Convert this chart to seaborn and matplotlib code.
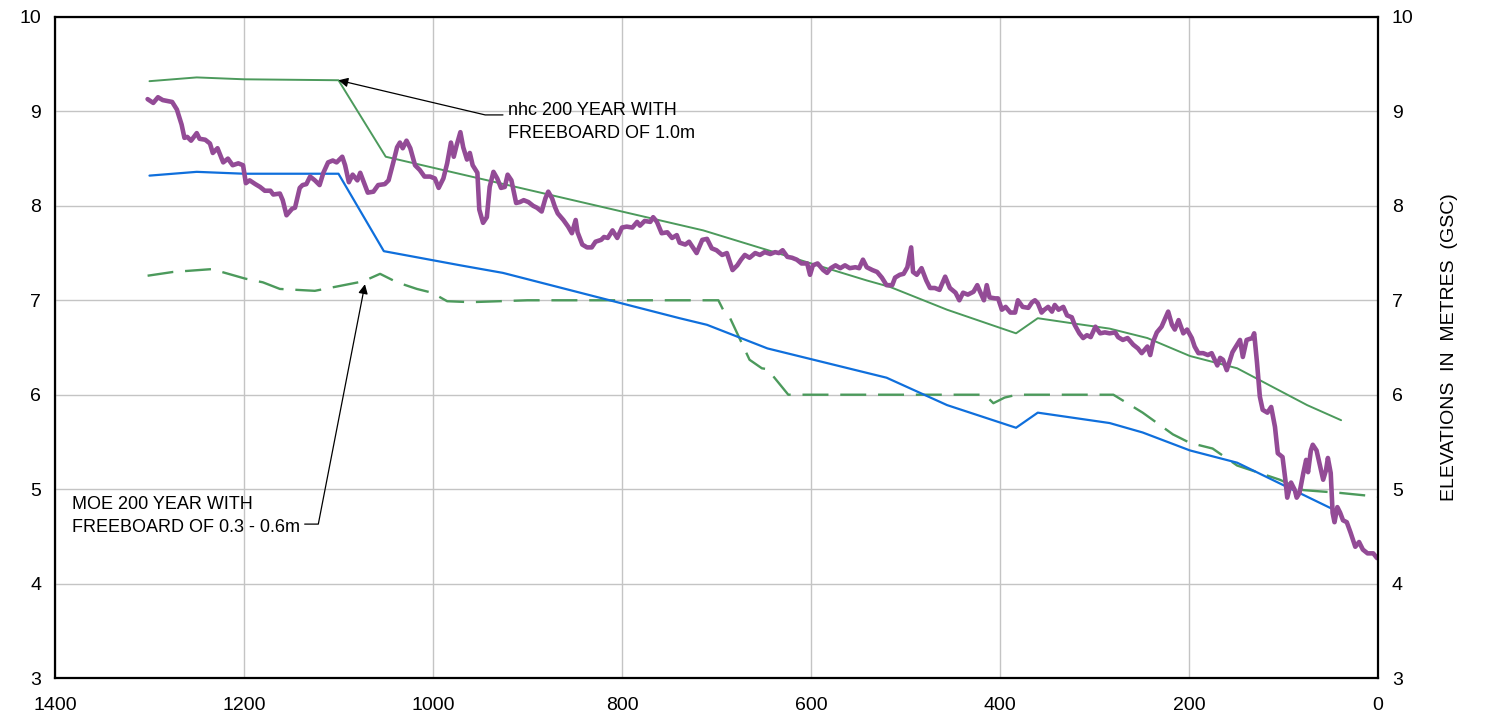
import numpy as np
import pandas as pd
import seaborn as sns
import matplotlib.pyplot as plt

sns.set_theme(style="whitegrid")
plt.rcParams['font.family'] = ['Liberation Sans', 'DejaVu Sans']
plt.rcParams['text.color'] = 'black'

# chainage (m) / elevation (m GSC)
ground_x = [1302, 1296, 1291, 1286, 1276, 1271, 1266, 1263, 1260, 1256, 1250, 1247, 1241, 1236,
            1233, 1228, 1222, 1217, 1212, 1206, 1201, 1198, 1194, 1188, 1183, 1178, 1172, 1169,
            1162, 1159, 1155, 1149, 1146, 1141, 1138, 1134, 1130, 1125, 1120, 1116, 1111, 1106,
            1102, 1096, 1093, 1089, 1085, 1080, 1077, 1074, 1069, 1063, 1058, 1051, 1047, 1042,
            1038, 1035, 1032, 1028, 1024, 1019, 1014, 1009, 1003, 998, 994, 989, 985, 981, 978,
            975, 971, 968, 964, 961, 958, 953, 951, 947, 943, 940, 936, 932, 928, 924, 921, 917,
            912, 908, 904, 899, 894, 890, 885, 881, 878, 874, 871, 868, 862, 857, 853, 849, 847,
            842, 837, 832, 828, 822, 819, 815, 810, 805, 800, 795, 789, 784, 781, 776, 770, 767,
            763, 758, 752, 747, 742, 739, 733, 729, 725, 721, 715, 710, 705, 700, 694, 689, 683,
            678, 674, 670, 665, 659, 654, 649, 643, 638, 634, 630, 625, 620, 615, 610, 604, 601,
            598, 593, 587, 583, 579, 574, 569, 564, 559, 553, 549, 545, 541, 535, 530, 525, 520,
            514, 511, 506, 502, 498, 494, 492, 488, 483, 478, 474, 469, 464, 458, 453, 447, 443,
            439, 434, 428, 424, 421, 417, 414, 411, 405, 402, 398, 394, 389, 384, 381, 376, 370,
            366, 363, 360, 356, 353, 349, 345, 342, 338, 333, 329, 324, 321, 316, 312, 308, 304,
            299, 294, 289, 284, 278, 275, 270, 265, 259, 254, 250, 244, 241, 238, 234, 229, 225,
            222, 218, 215, 211, 206, 202, 197, 194, 190, 185, 180, 176, 170, 167, 164, 160, 154,
            149, 146, 143, 139, 133, 131, 128, 125, 122, 117, 113, 109, 106, 101, 98, 96, 92, 88,
            86, 83, 79, 76, 74, 71, 69, 65, 61, 58, 55, 53, 50, 48, 46, 43, 40, 37, 33, 29, 24,
            20, 16, 11, 5, 1]
ground_y = [9.13, 9.09, 9.15, 9.12, 9.10, 9.02, 8.86, 8.72, 8.73, 8.69, 8.77, 8.71, 8.70, 8.66,
            8.56, 8.61, 8.46, 8.50, 8.43, 8.45, 8.43, 8.24, 8.27, 8.23, 8.20, 8.16, 8.16, 8.12,
            8.13, 8.06, 7.90, 7.97, 7.98, 8.19, 8.22, 8.23, 8.31, 8.27, 8.22, 8.35, 8.46, 8.48,
            8.46, 8.52, 8.43, 8.25, 8.33, 8.27, 8.35, 8.27, 8.14, 8.15, 8.22, 8.23, 8.27, 8.46,
            8.62, 8.67, 8.61, 8.69, 8.61, 8.43, 8.38, 8.31, 8.31, 8.29, 8.19, 8.29, 8.45, 8.67, 8.52,
            8.64, 8.78, 8.62, 8.49, 8.56, 8.43, 8.35, 7.96, 7.82, 7.88, 8.20, 8.36, 8.29, 8.19, 8.20, 8.33, 8.27,
            8.03, 8.04, 8.06, 8.04, 8.00, 7.98, 7.94, 8.08, 8.15, 8.08, 7.99, 7.92, 7.85, 7.78, 7.71, 7.85, 7.72,
            7.59, 7.56, 7.56, 7.62, 7.64, 7.67, 7.66, 7.74, 7.66, 7.77, 7.78, 7.77, 7.83, 7.79, 7.84, 7.83, 7.88,
            7.83, 7.71, 7.72, 7.66, 7.69, 7.61, 7.59, 7.62, 7.56, 7.50, 7.64, 7.65, 7.55, 7.53, 7.48, 7.50, 7.32,
            7.37, 7.43, 7.48, 7.45, 7.50, 7.48, 7.51, 7.49, 7.51, 7.50, 7.53, 7.46, 7.45, 7.43, 7.39, 7.39, 7.27,
            7.37, 7.39, 7.32, 7.29, 7.34, 7.37, 7.34, 7.37, 7.34, 7.35, 7.34, 7.43, 7.35, 7.32, 7.30, 7.24, 7.16,
            7.16, 7.24, 7.27, 7.28, 7.35, 7.56, 7.30, 7.27, 7.34, 7.21, 7.13, 7.13, 7.11, 7.25, 7.13, 7.08, 7.00,
            7.08, 7.06, 7.09, 7.16, 7.09, 7.00, 7.16, 7.03, 7.02, 7.02, 6.90, 6.93, 6.87, 6.87, 7.00, 6.93, 6.92,
            6.98, 7.00, 6.97, 6.87, 6.90, 6.93, 6.88, 6.95, 6.90, 6.93, 6.84, 6.82, 6.74, 6.65, 6.60, 6.63, 6.61,
            6.72, 6.65, 6.66, 6.65, 6.66, 6.61, 6.58, 6.60, 6.53, 6.49, 6.44, 6.51, 6.42, 6.56, 6.66, 6.72, 6.81,
            6.88, 6.74, 6.69, 6.79, 6.65, 6.69, 6.60, 6.51, 6.44, 6.44, 6.42, 6.44, 6.31, 6.39, 6.37, 6.26, 6.45,
            6.53, 6.58, 6.40, 6.58, 6.60, 6.65, 6.34, 5.98, 5.84, 5.81, 5.87, 5.66, 5.38, 5.34, 5.10, 4.91, 5.07, 4.99,
            4.91, 4.96, 5.17, 5.31, 5.18, 5.41, 5.47, 5.41, 5.23, 5.10, 5.20, 5.33, 5.17, 4.75, 4.65, 4.81, 4.75, 4.67, 4.65, 4.54, 4.39,
            4.44, 4.36, 4.32, 4.32, 4.27]

nhc_x = [1300, 1250, 1200, 1100, 1050, 714, 541, 516, 456, 383, 360, 326, 284, 244, 199, 149, 75, 39]
nhc_y = [9.32, 9.36, 9.34, 9.33, 8.52, 7.74, 7.21, 7.14, 6.90, 6.65, 6.81, 6.76, 6.70, 6.60, 6.41, 6.28, 5.89, 5.73]

moe_x = [1300, 1250, 1200, 1100, 1052, 971, 926, 739, 710, 646, 520, 456, 383, 360, 284, 249, 199, 149, 40]
moe_y = [8.32, 8.36, 8.34, 8.34, 7.52, 7.37, 7.29, 6.81, 6.74, 6.49, 6.18, 5.89, 5.65, 5.81, 5.70, 5.60, 5.41, 5.28, 4.75]

moe_fb_x = [1302, 1275, 1234, 1199, 1180, 1162, 1125, 1074, 1056, 1038, 1017, 1001, 985, 960, 900,
            698, 693, 686, 665, 652, 646, 624, 416, 407, 395, 382, 280, 249, 217, 199, 175, 149, 128,
            104, 79, 40, 0]
moe_fb_y = [7.26, 7.30, 7.33, 7.23, 7.19, 7.12, 7.10, 7.20, 7.28, 7.19, 7.12, 7.08, 6.99, 6.98, 7.00,
            7.00, 6.90, 6.82, 6.37, 6.28, 6.27, 6.00, 6.00, 5.91, 5.97, 6.00, 6.00, 5.81, 5.58, 5.49, 5.43,
            5.25, 5.18, 5.10, 4.99, 4.96, 4.92]

x_ticks = [1400, 1200, 1000, 800, 600, 400, 200, 0]
y_ticks = [3, 4, 5, 6, 7, 8, 9, 10]

purple = '#934b96'
green = '#4c9a5c'
blue = '#0f6fdc'

fig, ax = plt.subplots(figsize=(14.86, 7.19), dpi=100)
fig.subplots_adjust(left=0.037, right=0.9273, bottom=0.057, top=0.9764)

sns.lineplot(x=moe_fb_x, y=moe_fb_y, ax=ax, color=green, lw=1.7, sort=False, estimator=None,
             linestyle=(0, (11, 5)))
sns.lineplot(x=moe_x, y=moe_y, ax=ax, color=blue, lw=1.6, sort=False, estimator=None)
sns.lineplot(x=nhc_x, y=nhc_y, ax=ax, color=green, lw=1.4, sort=False, estimator=None)
sns.lineplot(x=ground_x, y=ground_y, ax=ax, color=purple, lw=3.3, sort=False, estimator=None)

ax.set_xlim(1400, 0)
ax.set_ylim(3, 10)
ax.set_xticks(x_ticks)
ax.set_yticks(y_ticks)
ax.grid(True, color='#c4c4c4', lw=1.0)
for s in ax.spines.values():
    s.set_color('black')
    s.set_linewidth(1.6)

ax.tick_params(axis='both', length=0, labelsize=14, colors='black')
ax.tick_params(axis='x', pad=14)
ax.tick_params(axis='y', pad=10, labelright=True)
ax.set_xlabel('')
ax.yaxis.set_label_position('right')
ax.set_ylabel('ELEVATIONS  IN  METRES  (GSC)', fontsize=14, labelpad=20, rotation=90, color='black')

ax.annotate('nhc 200 YEAR WITH\nFREEBOARD OF 1.0m', xy=(1100, 9.33), xytext=(921, 9.10),
            ha='left', va='top', fontsize=13, linespacing=1.5, color='black',
            arrowprops=dict(arrowstyle='-|>', color='black', lw=0.9, mutation_scale=14,
                            shrinkA=1, shrinkB=0, relpos=(0, 0.68),
                            connectionstyle='angle,angleA=180,angleB=-13.3,rad=0'))
ax.annotate('MOE 200 YEAR WITH\nFREEBOARD OF 0.3 - 0.6m', xy=(1072, 7.17), xytext=(1382, 4.93),
            ha='left', va='top', fontsize=13, linespacing=1.5, color='black',
            arrowprops=dict(arrowstyle='-|>', color='black', lw=0.9, mutation_scale=14,
                            shrinkA=1, shrinkB=0, relpos=(1, 0.3),
                            connectionstyle='angle,angleA=0,angleB=79,rad=0'))

plt.savefig('out.png', dpi=100)
